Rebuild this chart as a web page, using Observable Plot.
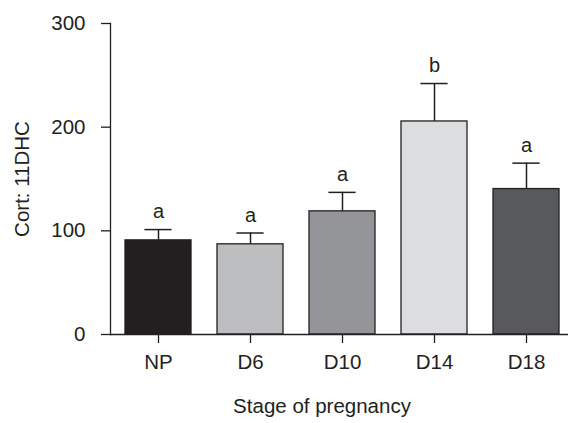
<!DOCTYPE html>
<html><head><meta charset="utf-8">
<script src="https://cdn.jsdelivr.net/npm/d3@7"></script>
<script src="https://cdn.jsdelivr.net/npm/@observablehq/plot@0.6"></script>
<style>body{margin:0;background:#fff} svg{font-family:"Liberation Sans",Arial,sans-serif}</style>
</head><body><div id="chart"></div>
<script>
const categories = ["NP", "D6", "D10", "D14", "D18"];
const means = [90.8, 87.0, 118.8, 205.5, 140.3];
const sems = [10.4, 10.9, 18.3, 36.6, 25.0];
const letters = ["a", "a", "a", "b", "a"];
const yTicks = [0, 100, 200, 300];
const xTitle = "Stage of pregnancy";
const yTitle = "Cort: 11DHC";
const barColors = ["#231f20", "#bcbec0", "#939598", "#dcdddf", "#58595b"];

const data = categories.map((c, i) => ({stage: c, mean: means[i], top: means[i] + sems[i], letter: letters[i]}));
const ink = "#231f20";

const chart = Plot.plot({
  width: 568, height: 423,
  marginLeft: 110, marginRight: 0, marginTop: 23, marginBottom: 89,
  style: {fontFamily: "Liberation Sans, Arial, sans-serif", fontSize: "20.5px", color: ink, background: "#fff"},
  x: {domain: categories, paddingInner: 0.28, paddingOuter: 0.14, insetRight: -6, label: null, axis: null},
  y: {domain: [0, 300], label: null, axis: null},
  color: {domain: categories, range: barColors},
  marks: [
    Plot.ruleX(data, {x: "stage", y1: "mean", y2: "top", stroke: ink, strokeWidth: 1.5}),
    Plot.tickY(data, {x: "stage", y: "top", stroke: ink, strokeWidth: 1.5, insetLeft: 19.4, insetRight: 19.4}),
    Plot.barY(data, {x: "stage", y: "mean", fill: "stage", stroke: ink, strokeWidth: 1.3}),
    Plot.text(data, {x: "stage", y: "top", text: "letter", lineAnchor: "bottom", dy: -11.5, fill: ink, fontSize: 20}),
    Plot.axisY({ticks: yTicks, tickSize: 9, tickPadding: 16, label: null, stroke: ink, strokeWidth: 1.3, fill: ink}),
    Plot.axisX({tickSize: 9, tickPadding: 11, label: null, stroke: ink, strokeWidth: 1.3, fill: ink}),
    Plot.ruleY([0], {stroke: ink, strokeWidth: 1.3}),
    Plot.frame({anchor: "left", stroke: ink, strokeWidth: 1.3}),
    Plot.text([xTitle], {frameAnchor: "bottom", dx: -17.5, dy: 78.4, fill: ink}),
    Plot.text([yTitle], {frameAnchor: "left", textAnchor: "middle", dx: -88, rotate: -90, fill: ink})
  ]
});
document.getElementById("chart").appendChild(chart);
</script>
</body></html>
